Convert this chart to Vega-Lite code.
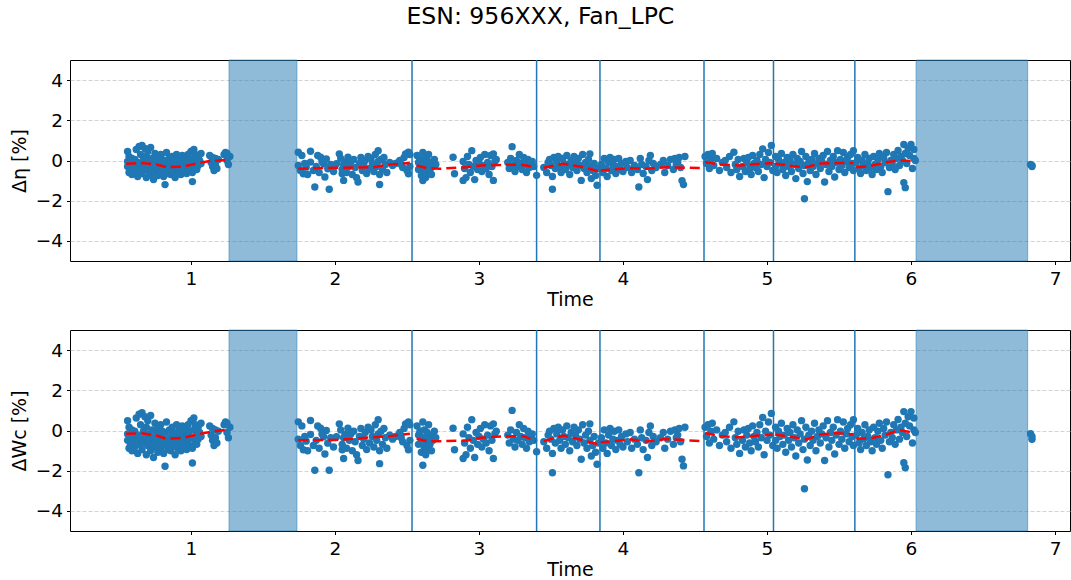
{
"$schema":"https://vega.github.io/schema/vega-lite/v6.json",
"padding":{"left":10,"top":5,"right":0,"bottom":0},
"background":"white",
"title":{"text":"ESN: 956XXX, Fan_LPC","fontSize":23.6,"fontWeight":"normal","font":"DejaVu Sans","color":"black","anchor":"middle","frame":"bounds","offset":30},
"config":{
"font":"DejaVu Sans",
"view":{"stroke":"black","strokeWidth":1},
"axis":{"domain":false,"labelFont":"DejaVu Sans","labelFontSize":18.5,"labelColor":"black","titleFont":"DejaVu Sans","titleFontSize":19,"titleFontWeight":"normal","titleColor":"black","tickColor":"black","tickSize":3.5,"tickWidth":1},
"axisX":{"grid":false,"labelPadding":4.5,"titlePadding":2.7},
"axisY":{"gridColor":"#c8c8c8","gridDash":[4,2],"gridWidth":0.8,"labelPadding":4,"titlePadding":5.5}
},
"datasets":{
"bands":[{"a":1.264,"b":1.736},{"a":6.035,"b":6.81}],
"vlines":[{"t":2.535},{"t":3.40},{"t":3.84},{"t":4.5625},{"t":5.045},{"t":5.61}],
"trend":[
{"s":1,"t":0.55,"e":-0.16,"w":-0.16},{"s":1,"t":0.67,"e":-0.13,"w":-0.15},{"s":1,"t":0.76,"e":-0.2,"w":-0.25},{"s":1,"t":0.83,"e":-0.33,"w":-0.41},{"s":1,"t":0.95,"e":-0.3,"w":-0.36},{"s":1,"t":1.04,"e":-0.15,"w":-0.2},{"s":1,"t":1.13,"e":-0.03,"w":-0.07},{"s":1,"t":1.26,"e":0.03,"w":0.05},
{"s":2,"t":1.745,"e":-0.41,"w":-0.49},{"s":2,"t":2.0,"e":-0.36,"w":-0.47},{"s":2,"t":2.15,"e":-0.35,"w":-0.4},{"s":2,"t":2.27,"e":-0.33,"w":-0.33},{"s":2,"t":2.38,"e":-0.2,"w":-0.28},{"s":2,"t":2.52,"e":-0.13,"w":-0.16},
{"s":3,"t":2.567,"e":-0.25,"w":-0.41},{"s":3,"t":2.637,"e":-0.38,"w":-0.53},{"s":3,"t":2.73,"e":-0.41,"w":-0.53},{"s":3,"t":2.915,"e":-0.33,"w":-0.5},{"s":3,"t":3.01,"e":-0.25,"w":-0.36},{"s":3,"t":3.19,"e":-0.21,"w":-0.28},{"s":3,"t":3.31,"e":-0.22,"w":-0.28},{"s":3,"t":3.4,"e":-0.36,"w":-0.53},
{"s":4,"t":3.45,"e":-0.36,"w":-0.53},{"s":4,"t":3.585,"e":-0.16,"w":-0.25},{"s":4,"t":3.7,"e":-0.3,"w":-0.45},{"s":4,"t":3.83,"e":-0.53,"w":-0.69},
{"s":5,"t":3.84,"e":-0.5,"w":-0.6},{"s":5,"t":4.05,"e":-0.38,"w":-0.44},{"s":5,"t":4.16,"e":-0.41,"w":-0.55},{"s":5,"t":4.3,"e":-0.33,"w":-0.42},{"s":5,"t":4.545,"e":-0.38,"w":-0.53},
{"s":6,"t":4.57,"e":-0.08,"w":-0.12},{"s":6,"t":4.67,"e":-0.2,"w":-0.28},{"s":6,"t":4.81,"e":-0.25,"w":-0.33},{"s":6,"t":4.95,"e":-0.16,"w":-0.25},{"s":6,"t":5.04,"e":-0.13,"w":-0.2},
{"s":7,"t":5.056,"e":-0.16,"w":-0.2},{"s":7,"t":5.18,"e":-0.28,"w":-0.33},{"s":7,"t":5.275,"e":-0.33,"w":-0.44},{"s":7,"t":5.37,"e":-0.15,"w":-0.2},{"s":7,"t":5.48,"e":-0.12,"w":-0.12},{"s":7,"t":5.6,"e":-0.13,"w":-0.2},
{"s":8,"t":5.62,"e":-0.33,"w":-0.41},{"s":8,"t":5.715,"e":-0.28,"w":-0.4},{"s":8,"t":5.83,"e":-0.08,"w":-0.2},{"s":8,"t":5.92,"e":0.0,"w":0.02},{"s":8,"t":6.0,"e":-0.03,"w":-0.08}
],
"pts":[
{"t":0.56,"e":0.45,"w":0.49},{"t":0.56,"e":-0.05,"w":-0.17},{"t":0.56,"e":-0.3,"w":-0.49},{"t":0.57,"e":-0.6,"w":-0.88},{"t":0.57,"e":0.2,"w":0.16},{"t":0.58,"e":-0.45,"w":-0.69},{"t":0.58,"e":-0.15,"w":-0.3},{"t":0.59,"e":0.1,"w":0.03},{"t":0.59,"e":-0.7,"w":-1.01},{"t":0.6,"e":-0.35,"w":-0.56},
{"t":0.61,"e":0.05,"w":-0.04},{"t":0.61,"e":-0.55,"w":-0.82},{"t":0.62,"e":0.55,"w":0.62},{"t":0.62,"e":-0.2,"w":-0.36},{"t":0.63,"e":-0.8,"w":-1.14},{"t":0.63,"e":-0.1,"w":-0.23},{"t":0.64,"e":0.7,"w":0.81},{"t":0.64,"e":-0.45,"w":-0.69},{"t":0.65,"e":0.3,"w":0.29},{"t":0.65,"e":-0.25,"w":-0.43},
{"t":0.66,"e":0.75,"w":0.88},{"t":0.66,"e":-0.65,"w":-0.95},{"t":0.67,"e":0.05,"w":-0.04},{"t":0.67,"e":-0.4,"w":-0.62},{"t":0.68,"e":0.6,"w":0.68},{"t":0.68,"e":-0.15,"w":-0.3},{"t":0.69,"e":-0.85,"w":-1.21},{"t":0.69,"e":0.2,"w":0.16},{"t":0.7,"e":-0.5,"w":-0.75},{"t":0.7,"e":0.45,"w":0.49},
{"t":0.71,"e":-0.05,"w":-0.17},{"t":0.71,"e":-0.3,"w":-0.49},{"t":0.72,"e":0.65,"w":0.75},{"t":0.72,"e":-0.7,"w":-1.01},{"t":0.73,"e":0.1,"w":0.03},{"t":0.73,"e":-0.45,"w":-0.69},{"t":0.74,"e":-0.2,"w":-0.36},{"t":0.74,"e":-0.95,"w":-1.34},{"t":0.75,"e":0.35,"w":0.36},{"t":0.75,"e":-0.55,"w":-0.82},
{"t":0.76,"e":0.0,"w":-0.1},{"t":0.76,"e":-0.3,"w":-0.49},{"t":0.77,"e":0.2,"w":0.16},{"t":0.77,"e":-0.75,"w":-1.08},{"t":0.78,"e":-0.1,"w":-0.23},{"t":0.78,"e":-0.45,"w":-0.69},{"t":0.79,"e":0.3,"w":0.29},{"t":0.79,"e":-0.6,"w":-0.88},{"t":0.8,"e":-0.2,"w":-0.36},{"t":0.8,"e":0.05,"w":-0.04},
{"t":0.81,"e":-0.35,"w":-0.56},{"t":0.81,"e":-0.8,"w":-1.14},{"t":0.82,"e":-1.2,"w":-1.78},{"t":0.82,"e":0.0,"w":-0.1},{"t":0.83,"e":-0.5,"w":-0.75},{"t":0.83,"e":0.4,"w":0.42},{"t":0.84,"e":-0.25,"w":-0.43},{"t":0.84,"e":-0.65,"w":-0.95},{"t":0.85,"e":0.1,"w":0.03},{"t":0.85,"e":-0.4,"w":-0.62},
{"t":0.86,"e":-0.15,"w":-0.3},{"t":0.86,"e":-0.7,"w":-1.01},{"t":0.87,"e":0.2,"w":0.16},{"t":0.87,"e":-0.55,"w":-0.82},{"t":0.88,"e":-0.3,"w":-0.49},{"t":0.88,"e":0.0,"w":-0.1},{"t":0.89,"e":-0.85,"w":-1.21},{"t":0.89,"e":-0.1,"w":-0.23},{"t":0.9,"e":0.3,"w":0.29},{"t":0.9,"e":-0.45,"w":-0.69},
{"t":0.91,"e":-0.2,"w":-0.36},{"t":0.91,"e":-0.6,"w":-0.88},{"t":0.92,"e":0.1,"w":0.03},{"t":0.92,"e":-0.35,"w":-0.56},{"t":0.93,"e":-0.05,"w":-0.17},{"t":0.93,"e":-0.7,"w":-1.01},{"t":0.94,"e":0.25,"w":0.23},{"t":0.94,"e":-0.5,"w":-0.75},{"t":0.95,"e":-0.25,"w":-0.43},{"t":0.95,"e":0.0,"w":-0.1},
{"t":0.96,"e":-0.4,"w":-0.62},{"t":0.96,"e":0.15,"w":0.1},{"t":0.97,"e":-0.65,"w":-0.95},{"t":0.97,"e":-0.15,"w":-0.3},{"t":0.98,"e":0.3,"w":0.29},{"t":0.98,"e":-0.3,"w":-0.49},{"t":0.99,"e":-0.5,"w":-0.75},{"t":0.99,"e":0.05,"w":-0.04},{"t":1.0,"e":0.45,"w":0.49},{"t":1.0,"e":-0.2,"w":-0.36},
{"t":1.01,"e":-1.05,"w":-1.62},{"t":1.01,"e":-0.6,"w":-0.88},{"t":1.02,"e":0.55,"w":0.62},{"t":1.02,"e":0.1,"w":0.03},{"t":1.03,"e":-0.35,"w":-0.56},{"t":1.03,"e":0.3,"w":0.29},{"t":1.04,"e":-0.1,"w":-0.23},{"t":1.04,"e":-0.45,"w":-0.69},{"t":1.05,"e":0.2,"w":0.16},{"t":1.05,"e":-0.25,"w":-0.43},
{"t":1.06,"e":0.0,"w":-0.1},{"t":1.07,"e":-0.15,"w":-0.3},{"t":1.07,"e":0.35,"w":0.36},{"t":1.13,"e":0.25,"w":0.23},{"t":1.14,"e":-0.1,"w":-0.23},{"t":1.15,"e":0.15,"w":0.1},{"t":1.15,"e":-0.3,"w":-0.49},{"t":1.16,"e":-0.5,"w":-0.75},{"t":1.17,"e":0.1,"w":0.03},{"t":1.17,"e":-0.2,"w":-0.36},
{"t":1.18,"e":-0.4,"w":-0.62},{"t":1.19,"e":0.05,"w":-0.04},{"t":1.23,"e":0.3,"w":0.29},{"t":1.24,"e":0.4,"w":0.42},{"t":1.25,"e":0.0,"w":-0.1},{"t":1.25,"e":0.35,"w":0.36},{"t":1.26,"e":-0.2,"w":-0.36},{"t":1.27,"e":0.2,"w":0.16},
{"t":1.745,"e":0.41,"w":0.43},{"t":1.77,"e":0.25,"w":0.23},{"t":1.83,"e":0.46,"w":0.5},{"t":1.745,"e":-0.25,"w":-0.43},{"t":1.76,"e":-0.5,"w":-0.75},{"t":1.78,"e":-0.66,"w":-0.96},{"t":1.8,"e":-0.33,"w":-0.53},{"t":1.83,"e":-0.08,"w":-0.2},{"t":1.85,"e":-0.5,"w":-0.75},{"t":1.86,"e":-1.32,"w":-1.98},
{"t":1.88,"e":0.25,"w":0.23},{"t":1.9,"e":0.16,"w":0.11},{"t":1.92,"e":-0.16,"w":-0.31},{"t":1.93,"e":-0.82,"w":-1.17},{"t":1.94,"e":0.08,"w":0.0},{"t":1.95,"e":-0.41,"w":-0.63},{"t":1.96,"e":-1.43,"w":-1.98},{"t":1.79,"e":-0.15,"w":-0.3},{"t":1.81,"e":-0.7,"w":-1.01},{"t":1.87,"e":-0.3,"w":-0.49},
{"t":1.89,"e":-0.6,"w":-0.88},{"t":1.91,"e":-0.05,"w":-0.17},{"t":1.97,"e":-0.2,"w":-0.36},{"t":1.99,"e":-0.55,"w":-0.82},{"t":2.01,"e":-0.16,"w":-0.31},{"t":2.03,"e":0.33,"w":0.33},{"t":2.05,"e":-0.66,"w":-0.96},{"t":2.06,"e":-0.99,"w":-1.39},{"t":2.07,"e":-0.08,"w":-0.2},{"t":2.09,"e":0.16,"w":0.11},
{"t":2.04,"e":0.1,"w":0.03},{"t":2.05,"e":-0.45,"w":-0.69},{"t":2.06,"e":-0.2,"w":-0.36},{"t":2.08,"e":-0.6,"w":-0.88},{"t":2.1,"e":-0.3,"w":-0.49},{"t":2.11,"e":-0.05,"w":-0.17},{"t":2.12,"e":-0.7,"w":-1.01},{"t":2.13,"e":0.05,"w":-0.04},{"t":2.14,"e":-0.35,"w":-0.56},{"t":2.15,"e":-0.85,"w":-1.21},
{"t":2.16,"e":-1.07,"w":-1.49},{"t":2.17,"e":-0.15,"w":-0.3},{"t":2.18,"e":0.15,"w":0.1},{"t":2.19,"e":-0.5,"w":-0.75},{"t":2.2,"e":-0.25,"w":-0.43},{"t":2.21,"e":0.0,"w":-0.1},{"t":2.22,"e":-0.65,"w":-0.95},{"t":2.23,"e":0.2,"w":0.16},{"t":2.24,"e":-0.4,"w":-0.62},{"t":2.25,"e":0.1,"w":0.03},
{"t":2.26,"e":-0.15,"w":-0.3},{"t":2.27,"e":-0.55,"w":-0.82},{"t":2.28,"e":0.3,"w":0.29},{"t":2.29,"e":-0.3,"w":-0.49},{"t":2.3,"e":0.49,"w":0.54},{"t":2.3,"e":-0.05,"w":-0.17},{"t":2.31,"e":-1.19,"w":-1.65},{"t":2.31,"e":-0.7,"w":-1.01},{"t":2.32,"e":0.05,"w":-0.04},{"t":2.33,"e":-0.45,"w":-0.69},
{"t":2.34,"e":0.15,"w":0.1},{"t":2.35,"e":-0.2,"w":-0.36},{"t":2.36,"e":-0.6,"w":-0.88},{"t":2.38,"e":-0.1,"w":-0.23},{"t":2.4,"e":-0.25,"w":-0.43},{"t":2.42,"e":-0.15,"w":-0.3},{"t":2.44,"e":-0.1,"w":-0.23},{"t":2.45,"e":0.0,"w":-0.1},{"t":2.46,"e":-0.2,"w":-0.36},{"t":2.47,"e":-0.35,"w":-0.56},
{"t":2.48,"e":0.15,"w":0.1},{"t":2.49,"e":0.33,"w":0.33},{"t":2.5,"e":-0.5,"w":-0.75},{"t":2.51,"e":0.41,"w":0.43},{"t":2.51,"e":-0.66,"w":-0.96},{"t":2.52,"e":0.3,"w":0.29},{"t":2.52,"e":-0.3,"w":-0.49},
{"t":2.57,"e":0.25,"w":0.23},{"t":2.58,"e":-0.1,"w":-0.23},{"t":2.58,"e":-0.45,"w":-0.69},{"t":2.59,"e":0.05,"w":-0.04},{"t":2.6,"e":-0.3,"w":-0.49},{"t":2.6,"e":-0.75,"w":-1.08},{"t":2.61,"e":0.4,"w":0.42},{"t":2.61,"e":-0.2,"w":-0.36},{"t":2.61,"e":-1.0,"w":-1.73},{"t":2.62,"e":-0.55,"w":-0.82},
{"t":2.62,"e":0.1,"w":0.03},{"t":2.63,"e":-0.35,"w":-0.56},{"t":2.63,"e":-0.85,"w":-1.21},{"t":2.64,"e":0.0,"w":-0.1},{"t":2.64,"e":-0.6,"w":-0.88},{"t":2.65,"e":-0.25,"w":-0.43},{"t":2.65,"e":0.3,"w":0.29},{"t":2.66,"e":-0.45,"w":-0.69},{"t":2.67,"e":-0.1,"w":-0.23},{"t":2.67,"e":-0.7,"w":-1.01},
{"t":2.68,"e":-0.3,"w":-0.49},{"t":2.69,"e":0.05,"w":-0.04},{"t":2.7,"e":-0.2,"w":-0.36},{"t":2.82,"e":0.16,"w":0.11},{"t":2.83,"e":-0.66,"w":-0.96},{"t":2.89,"e":-0.05,"w":-0.17},{"t":2.89,"e":-0.99,"w":-1.39},{"t":2.9,"e":-0.4,"w":-0.62},{"t":2.91,"e":-0.85,"w":-1.21},{"t":2.92,"e":0.2,"w":0.16},
{"t":2.93,"e":-0.2,"w":-0.36},{"t":2.94,"e":-0.6,"w":-0.88},{"t":2.95,"e":0.49,"w":0.54},{"t":2.96,"e":-0.3,"w":-0.49},{"t":2.97,"e":-0.95,"w":-1.34},{"t":2.98,"e":0.0,"w":-0.1},{"t":2.99,"e":-0.45,"w":-0.69},{"t":3.0,"e":-0.15,"w":-0.3},{"t":3.01,"e":0.15,"w":0.1},{"t":3.02,"e":-0.55,"w":-0.82},
{"t":3.03,"e":-0.25,"w":-0.43},{"t":3.04,"e":0.3,"w":0.29},{"t":3.05,"e":-0.4,"w":-0.62},{"t":3.06,"e":-0.1,"w":-0.23},{"t":3.07,"e":-0.7,"w":-1.01},{"t":3.08,"e":0.25,"w":0.23},{"t":3.09,"e":-0.3,"w":-0.49},{"t":3.1,"e":0.33,"w":0.33},{"t":3.1,"e":-0.99,"w":-1.39},{"t":3.11,"e":-0.05,"w":-0.17},
{"t":3.12,"e":0.05,"w":-0.04},{"t":3.23,"e":0.69,"w":1.0},{"t":3.2,"e":-0.1,"w":-0.23},{"t":3.21,"e":-0.4,"w":-0.62},{"t":3.22,"e":0.1,"w":0.03},{"t":3.24,"e":-0.25,"w":-0.43},{"t":3.25,"e":-0.55,"w":-0.82},{"t":3.26,"e":0.0,"w":-0.1},{"t":3.27,"e":-0.3,"w":-0.49},{"t":3.28,"e":0.3,"w":0.29},
{"t":3.29,"e":-0.15,"w":-0.3},{"t":3.3,"e":-0.45,"w":-0.69},{"t":3.31,"e":0.15,"w":0.1},{"t":3.32,"e":-0.2,"w":-0.36},{"t":3.33,"e":-0.6,"w":-0.88},{"t":3.34,"e":0.05,"w":-0.04},{"t":3.35,"e":-0.35,"w":-0.56},{"t":3.36,"e":-0.1,"w":-0.23},{"t":3.37,"e":-0.05,"w":-0.17},{"t":3.38,"e":-0.3,"w":-0.49},
{"t":3.4,"e":-0.74,"w":-1.06},
{"t":3.45,"e":-0.35,"w":-0.56},{"t":3.47,"e":-0.6,"w":-0.88},{"t":3.48,"e":-0.1,"w":-0.23},{"t":3.49,"e":0.05,"w":-0.04},{"t":3.5,"e":-0.25,"w":-0.43},{"t":3.51,"e":-1.43,"w":-2.1},{"t":3.51,"e":-0.8,"w":-1.14},{"t":3.52,"e":0.15,"w":0.1},{"t":3.53,"e":-0.4,"w":-0.62},{"t":3.54,"e":-0.05,"w":-0.17},
{"t":3.55,"e":0.2,"w":0.16},{"t":3.56,"e":-0.3,"w":-0.49},{"t":3.57,"e":-0.6,"w":-0.88},{"t":3.58,"e":0.1,"w":0.03},{"t":3.59,"e":-0.15,"w":-0.3},{"t":3.6,"e":-0.45,"w":-0.69},{"t":3.61,"e":0.25,"w":0.23},{"t":3.62,"e":-0.2,"w":-0.36},{"t":3.63,"e":-0.7,"w":-1.01},{"t":3.64,"e":0.0,"w":-0.1},
{"t":3.65,"e":-0.35,"w":-0.56},{"t":3.66,"e":0.2,"w":0.16},{"t":3.67,"e":-0.1,"w":-0.23},{"t":3.68,"e":-0.5,"w":-0.75},{"t":3.69,"e":0.1,"w":0.03},{"t":3.7,"e":-0.25,"w":-0.43},{"t":3.71,"e":-0.99,"w":-1.43},{"t":3.72,"e":0.3,"w":0.29},{"t":3.73,"e":-0.4,"w":-0.62},{"t":3.74,"e":-0.1,"w":-0.23},
{"t":3.75,"e":-0.6,"w":-0.88},{"t":3.76,"e":0.05,"w":-0.04},{"t":3.77,"e":0.33,"w":0.33},{"t":3.77,"e":-0.3,"w":-0.49},{"t":3.78,"e":-0.9,"w":-1.27},{"t":3.79,"e":-0.5,"w":-0.75},{"t":3.8,"e":-0.15,"w":-0.3},{"t":3.81,"e":-0.75,"w":-1.08},{"t":3.82,"e":-1.23,"w":-1.68},{"t":3.83,"e":-0.4,"w":-0.62},
{"t":3.85,"e":-0.2,"w":-0.36},{"t":3.86,"e":-0.6,"w":-0.88},{"t":3.87,"e":0.1,"w":0.03},{"t":3.88,"e":-0.4,"w":-0.62},{"t":3.89,"e":-0.8,"w":-1.14},{"t":3.9,"e":-0.1,"w":-0.23},{"t":3.91,"e":0.15,"w":0.1},{"t":3.92,"e":-0.5,"w":-0.75},{"t":3.93,"e":-0.25,"w":-0.43},{"t":3.94,"e":0.05,"w":-0.04},
{"t":3.95,"e":-0.65,"w":-0.95},{"t":3.96,"e":-0.3,"w":-0.49},{"t":3.97,"e":0.1,"w":0.03},{"t":3.98,"e":-0.45,"w":-0.69},{"t":3.99,"e":-0.15,"w":-0.3},{"t":4.0,"e":-0.55,"w":-0.82},{"t":4.02,"e":-0.05,"w":-0.17},{"t":4.03,"e":-0.35,"w":-0.56},{"t":4.05,"e":0.0,"w":-0.1},{"t":4.06,"e":-0.6,"w":-0.88},
{"t":4.08,"e":-0.25,"w":-0.43},{"t":4.1,"e":-0.45,"w":-0.69},{"t":4.11,"e":-1.32,"w":-2.1},{"t":4.12,"e":0.1,"w":0.03},{"t":4.13,"e":-0.2,"w":-0.36},{"t":4.14,"e":-0.65,"w":-0.95},{"t":4.16,"e":-0.3,"w":-0.49},{"t":4.17,"e":-0.95,"w":-1.34},{"t":4.18,"e":0.0,"w":-0.1},{"t":4.19,"e":0.25,"w":0.23},
{"t":4.2,"e":-0.5,"w":-0.75},{"t":4.21,"e":-0.15,"w":-0.3},{"t":4.23,"e":-0.35,"w":-0.56},{"t":4.26,"e":-0.2,"w":-0.36},{"t":4.28,"e":0.0,"w":-0.1},{"t":4.29,"e":-0.6,"w":-0.88},{"t":4.31,"e":-0.25,"w":-0.43},{"t":4.33,"e":0.05,"w":-0.04},{"t":4.35,"e":-0.45,"w":-0.69},{"t":4.36,"e":0.1,"w":0.03},
{"t":4.37,"e":-0.2,"w":-0.36},{"t":4.38,"e":-0.1,"w":-0.23},{"t":4.39,"e":0.15,"w":0.1},{"t":4.4,"e":-0.35,"w":-0.56},{"t":4.41,"e":-1.0,"w":-1.43},{"t":4.42,"e":-1.2,"w":-1.76},{"t":4.43,"e":0.2,"w":0.16},
{"t":4.57,"e":0.2,"w":0.16},{"t":4.58,"e":-0.15,"w":-0.3},{"t":4.59,"e":0.3,"w":0.29},{"t":4.6,"e":-0.4,"w":-0.62},{"t":4.61,"e":0.05,"w":-0.04},{"t":4.62,"e":0.35,"w":0.36},{"t":4.63,"e":-0.25,"w":-0.43},{"t":4.65,"e":0.1,"w":0.03},{"t":4.67,"e":-0.5,"w":-0.75},{"t":4.69,"e":-0.1,"w":-0.23},
{"t":4.71,"e":0.0,"w":-0.1},{"t":4.72,"e":-0.35,"w":-0.56},{"t":4.74,"e":0.2,"w":0.16},{"t":4.75,"e":-0.6,"w":-0.88},{"t":4.77,"e":0.41,"w":0.43},{"t":4.78,"e":-0.2,"w":-0.36},{"t":4.79,"e":-0.45,"w":-0.69},{"t":4.8,"e":0.05,"w":-0.04},{"t":4.81,"e":-0.8,"w":-1.14},{"t":4.83,"e":-0.3,"w":-0.49},
{"t":4.84,"e":0.1,"w":0.03},{"t":4.85,"e":-0.55,"w":-0.82},{"t":4.86,"e":-0.1,"w":-0.23},{"t":4.87,"e":0.15,"w":0.1},{"t":4.88,"e":-0.4,"w":-0.62},{"t":4.89,"e":-0.7,"w":-1.01},{"t":4.9,"e":0.25,"w":0.23},{"t":4.91,"e":-0.15,"w":-0.3},{"t":4.92,"e":-0.35,"w":-0.56},{"t":4.93,"e":0.0,"w":-0.1},
{"t":4.94,"e":-0.55,"w":-0.82},{"t":4.95,"e":0.3,"w":0.29},{"t":4.96,"e":-0.2,"w":-0.36},{"t":4.97,"e":0.58,"w":0.65},{"t":4.98,"e":-0.85,"w":-1.21},{"t":4.99,"e":0.05,"w":-0.04},{"t":5.0,"e":-0.3,"w":-0.49},{"t":5.01,"e":0.4,"w":0.42},{"t":5.02,"e":-0.1,"w":-0.23},{"t":5.03,"e":0.75,"w":0.85},
{"t":5.04,"e":-0.5,"w":-0.75},
{"t":5.06,"e":0.2,"w":0.16},{"t":5.06,"e":-0.3,"w":-0.49},{"t":5.07,"e":-0.6,"w":-0.88},{"t":5.08,"e":0.05,"w":-0.04},{"t":5.09,"e":-0.15,"w":-0.3},{"t":5.1,"e":0.35,"w":0.36},{"t":5.11,"e":-0.45,"w":-0.69},{"t":5.12,"e":-0.1,"w":-0.23},{"t":5.13,"e":-0.75,"w":-1.08},{"t":5.14,"e":0.15,"w":0.1},
{"t":5.15,"e":-0.3,"w":-0.49},{"t":5.16,"e":0.0,"w":-0.1},{"t":5.17,"e":-0.55,"w":-0.82},{"t":5.18,"e":0.3,"w":0.29},{"t":5.19,"e":-0.2,"w":-0.36},{"t":5.2,"e":-0.9,"w":-1.27},{"t":5.21,"e":0.1,"w":0.03},{"t":5.22,"e":-0.4,"w":-0.62},{"t":5.23,"e":-0.05,"w":-0.17},{"t":5.24,"e":0.45,"w":0.49},
{"t":5.25,"e":-0.65,"w":-0.95},{"t":5.26,"e":-1.9,"w":-2.9},{"t":5.26,"e":-0.25,"w":-0.43},{"t":5.27,"e":0.2,"w":0.16},{"t":5.28,"e":-1.05,"w":-1.47},{"t":5.29,"e":-0.1,"w":-0.23},{"t":5.3,"e":-0.5,"w":-0.75},{"t":5.31,"e":0.05,"w":-0.04},{"t":5.32,"e":-0.3,"w":-0.49},{"t":5.33,"e":0.35,"w":0.36},
{"t":5.34,"e":-0.7,"w":-1.01},{"t":5.35,"e":-0.15,"w":-0.3},{"t":5.36,"e":0.1,"w":0.03},{"t":5.37,"e":-0.4,"w":-0.62},{"t":5.38,"e":-0.05,"w":-0.17},{"t":5.39,"e":0.25,"w":0.23},{"t":5.4,"e":-1.07,"w":-1.49},{"t":5.41,"e":-0.2,"w":-0.36},{"t":5.42,"e":0.45,"w":0.49},{"t":5.43,"e":-0.55,"w":-0.82},
{"t":5.44,"e":0.0,"w":-0.1},{"t":5.45,"e":-0.3,"w":-0.49},{"t":5.46,"e":0.2,"w":0.16},{"t":5.47,"e":-0.82,"w":-1.17},{"t":5.48,"e":-0.1,"w":-0.23},{"t":5.49,"e":0.49,"w":0.54},{"t":5.5,"e":-0.45,"w":-0.69},{"t":5.51,"e":0.05,"w":-0.04},{"t":5.52,"e":-0.25,"w":-0.43},{"t":5.53,"e":0.4,"w":0.42},
{"t":5.54,"e":-0.6,"w":-0.88},{"t":5.55,"e":-0.05,"w":-0.17},{"t":5.56,"e":0.15,"w":0.1},{"t":5.57,"e":-0.35,"w":-0.56},{"t":5.58,"e":0.3,"w":0.29},{"t":5.59,"e":-0.15,"w":-0.3},{"t":5.6,"e":0.49,"w":0.54},{"t":5.6,"e":-0.5,"w":-0.75},
{"t":5.62,"e":-0.1,"w":-0.23},{"t":5.63,"e":0.15,"w":0.1},{"t":5.64,"e":-0.4,"w":-0.62},{"t":5.65,"e":-0.65,"w":-0.95},{"t":5.66,"e":0.0,"w":-0.1},{"t":5.67,"e":-0.25,"w":-0.43},{"t":5.68,"e":0.3,"w":0.29},{"t":5.69,"e":-0.5,"w":-0.75},{"t":5.7,"e":-0.15,"w":-0.3},{"t":5.71,"e":0.1,"w":0.03},
{"t":5.72,"e":-0.35,"w":-0.56},{"t":5.73,"e":-0.7,"w":-1.01},{"t":5.74,"e":0.2,"w":0.16},{"t":5.75,"e":-0.2,"w":-0.36},{"t":5.76,"e":-0.45,"w":-0.69},{"t":5.77,"e":0.05,"w":-0.04},{"t":5.78,"e":0.35,"w":0.36},{"t":5.79,"e":-0.3,"w":-0.49},{"t":5.8,"e":-0.6,"w":-0.88},{"t":5.81,"e":0.15,"w":0.1},
{"t":5.82,"e":-0.1,"w":-0.23},{"t":5.83,"e":0.4,"w":0.42},{"t":5.84,"e":-1.55,"w":-2.2},{"t":5.85,"e":-0.35,"w":-0.56},{"t":5.86,"e":0.0,"w":-0.1},{"t":5.87,"e":-0.2,"w":-0.36},{"t":5.88,"e":0.3,"w":0.29},{"t":5.89,"e":-0.45,"w":-0.69},{"t":5.9,"e":0.1,"w":0.03},{"t":5.91,"e":0.5,"w":0.55},
{"t":5.92,"e":-0.25,"w":-0.43},{"t":5.93,"e":0.2,"w":0.16},{"t":5.94,"e":0.0,"w":-0.1},{"t":5.95,"e":0.8,"w":0.94},{"t":5.95,"e":-1.1,"w":-1.6},{"t":5.96,"e":-1.35,"w":-1.85},{"t":5.96,"e":0.35,"w":0.36},{"t":5.97,"e":-0.15,"w":-0.3},{"t":5.98,"e":0.6,"w":0.68},{"t":5.99,"e":0.25,"w":0.23},
{"t":6.0,"e":0.8,"w":0.94},{"t":6.01,"e":-0.4,"w":-0.62},{"t":6.02,"e":0.1,"w":0.03},{"t":6.02,"e":0.55,"w":0.62},{"t":6.03,"e":0.0,"w":-0.1},{"t":6.83,"e":-0.2,"w":-0.16},{"t":6.84,"e":-0.3,"w":-0.44},{"t":6.84,"e":-0.25,"w":-0.3}
]
},
"spacing":69,
"bounds":"flush",
"vconcat":[
{"width":1000,"height":201,
"layer":[
{"data":{"name":"bands"},"mark":{"type":"rect","fill":"#1f77b4","fillOpacity":0.5,"stroke":"#1f77b4","strokeOpacity":0.5,"strokeWidth":1},
"encoding":{"x":{"field":"a","type":"quantitative","title":"Time","scale":{"domain":[0.16,7.104],"nice":false,"zero":false},"axis":{"values":[1,2,3,4,5,6,7],"format":"d"}},"x2":{"field":"b"}}},
{"data":{"name":"pts"},"mark":{"type":"circle","size":55,"color":"#1f77b4","opacity":1},
"encoding":{"x":{"field":"t","type":"quantitative","title":"Time"},"y":{"field":"e","type":"quantitative","title":"Δη [%]","scale":{"domain":[-5,5],"nice":false},"axis":{"values":[-4,-2,0,2,4]}}}},
{"data":{"name":"trend"},"mark":{"type":"line","color":"#ff0000","strokeDash":[10,5],"strokeWidth":2.5},
"encoding":{"x":{"field":"t","type":"quantitative","title":"Time"},"y":{"field":"e","type":"quantitative","title":"Δη [%]"},"detail":{"field":"s"}}},
{"data":{"name":"vlines"},"mark":{"type":"rule","color":"#1f77b4","strokeWidth":1.5},
"encoding":{"x":{"field":"t","type":"quantitative","title":"Time"}}}
]},
{"width":1000,"height":201,
"layer":[
{"data":{"name":"bands"},"mark":{"type":"rect","fill":"#1f77b4","fillOpacity":0.5,"stroke":"#1f77b4","strokeOpacity":0.5,"strokeWidth":1},
"encoding":{"x":{"field":"a","type":"quantitative","title":"Time","scale":{"domain":[0.16,7.104],"nice":false,"zero":false},"axis":{"values":[1,2,3,4,5,6,7],"format":"d"}},"x2":{"field":"b"}}},
{"data":{"name":"pts"},"mark":{"type":"circle","size":55,"color":"#1f77b4","opacity":1},
"encoding":{"x":{"field":"t","type":"quantitative","title":"Time"},"y":{"field":"w","type":"quantitative","title":"ΔWc [%]","scale":{"domain":[-5,5],"nice":false},"axis":{"values":[-4,-2,0,2,4]}}}},
{"data":{"name":"trend"},"mark":{"type":"line","color":"#ff0000","strokeDash":[10,5],"strokeWidth":2.5},
"encoding":{"x":{"field":"t","type":"quantitative","title":"Time"},"y":{"field":"w","type":"quantitative","title":"ΔWc [%]"},"detail":{"field":"s"}}},
{"data":{"name":"vlines"},"mark":{"type":"rule","color":"#1f77b4","strokeWidth":1.5},
"encoding":{"x":{"field":"t","type":"quantitative","title":"Time"}}}
]}
]
}
